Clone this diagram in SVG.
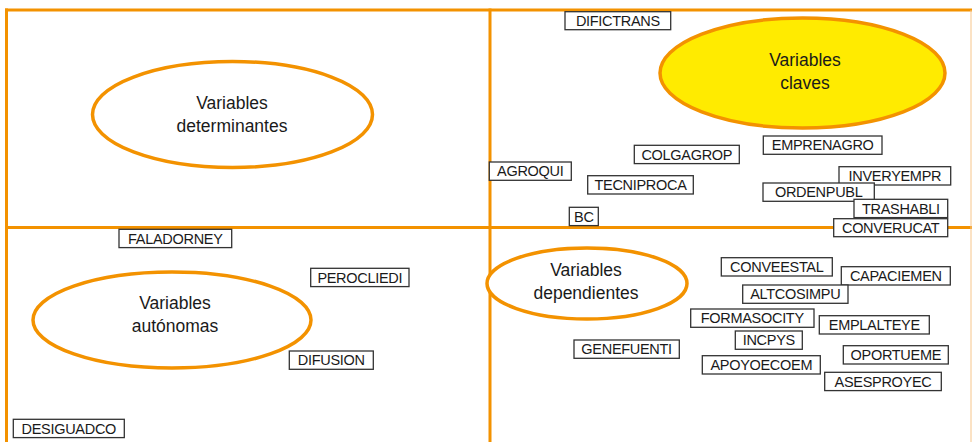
<svg xmlns="http://www.w3.org/2000/svg" width="972" height="442" viewBox="0 0 972 442">
<style>
.frame{stroke:#F39200;stroke-width:3;fill:none}
.ell{stroke:#F39200;stroke-width:3.5;fill:#fff}
.key{fill:#FFEB00}
.big{font-family:"Liberation Sans",Arial,sans-serif;font-size:17.5px;fill:#1a1a1a;text-anchor:middle}
.box rect{fill:#fff;stroke:#333;stroke-width:1.3}
.box text{font-family:"Liberation Sans",Arial,sans-serif;font-size:14.5px;letter-spacing:-0.3px;fill:#1a1a1a;text-anchor:middle}
</style>
<rect width="972" height="442" fill="#fff"/>
<g id="connectors">
<line class="frame" x1="5" y1="10" x2="972" y2="10"/>
<line class="frame" x1="6.5" y1="8.5" x2="6.5" y2="442"/>
<line class="frame" x1="490" y1="8.5" x2="490" y2="442"/>
<line class="frame" x1="5" y1="227.5" x2="972" y2="227.5"/>
<line x1="971" y1="10" x2="971" y2="442" stroke="#F7C58A" stroke-width="1"/>
</g>
<g id="determinantes"><ellipse class="ell" cx="232.5" cy="114.5" rx="140" ry="53"/><text class="big" x="232" y="109">Variables</text><text class="big" x="232" y="132">determinantes</text></g>
<g id="claves"><ellipse class="ell key" cx="802.5" cy="73" rx="142.5" ry="55"/><text class="big" x="805" y="66">Variables</text><text class="big" x="805" y="88.5">claves</text></g>
<g id="dependientes"><ellipse class="ell" cx="587" cy="283.5" rx="100" ry="35.5"/><text class="big" x="586" y="276">Variables</text><text class="big" x="586" y="298.5">dependientes</text></g>
<g id="autonomas"><ellipse class="ell" cx="172" cy="320" rx="139" ry="48"/><text class="big" x="175" y="308.5">Variables</text><text class="big" x="175" y="332">autónomas</text></g>
<g id="DIFICTRANS" class="box"><rect x="565" y="11.7" width="105.7" height="18"/><text x="617.9" y="25.8">DIFICTRANS</text></g>
<g id="COLGAGROP" class="box"><rect x="634.3" y="145.3" width="105" height="18.3"/><text x="686.8" y="159.6">COLGAGROP</text></g>
<g id="EMPRENAGRO" class="box"><rect x="763.3" y="136" width="118.7" height="18.3"/><text x="822.7" y="150.3">EMPRENAGRO</text></g>
<g id="AGROQUI" class="box"><rect x="489.3" y="162" width="82" height="18.3"/><text x="530.3" y="176.3">AGROQUI</text></g>
<g id="TECNIPROCA" class="box"><rect x="587.7" y="175.7" width="105.6" height="18.3"/><text x="640.5" y="190">TECNIPROCA</text></g>
<g id="INVERYEMPR" class="box"><rect x="839" y="166.7" width="111.7" height="18.3"/><text x="894.9" y="181">INVERYEMPR</text></g>
<g id="ORDENPUBL" class="box"><rect x="763" y="183" width="111.3" height="18.3"/><text x="818.7" y="197.3">ORDENPUBL</text></g>
<g id="TRASHABLI" class="box"><rect x="854" y="199.3" width="93.7" height="18.3"/><text x="900.9" y="213.6">TRASHABLI</text></g>
<g id="BC" class="box"><rect x="569.3" y="207.3" width="29" height="18.3"/><text x="583.8" y="221.6">BC</text></g>
<g id="CONVERUCAT" class="box"><rect x="833.7" y="218.7" width="114" height="18"/><text x="890.7" y="232.9">CONVERUCAT</text></g>
<g id="CONVEESTAL" class="box"><rect x="721.3" y="257.7" width="111" height="18.3"/><text x="776.8" y="272">CONVEESTAL</text></g>
<g id="CAPACIEMEN" class="box"><rect x="841.3" y="266.7" width="109" height="18.3"/><text x="895.8" y="281">CAPACIEMEN</text></g>
<g id="ALTCOSIMPU" class="box"><rect x="742.7" y="285" width="105.3" height="18.3"/><text x="795.3" y="299.3">ALTCOSIMPU</text></g>
<g id="FORMASOCITY" class="box"><rect x="690.7" y="309" width="123.3" height="18.3"/><text x="752.3" y="323.3">FORMASOCITY</text></g>
<g id="EMPLALTEYE" class="box"><rect x="819.3" y="315.7" width="110" height="18.3"/><text x="874.3" y="330">EMPLALTEYE</text></g>
<g id="INCPYS" class="box"><rect x="735.3" y="331" width="67" height="18.3"/><text x="768.8" y="345.3">INCPYS</text></g>
<g id="GENEFUENTI" class="box"><rect x="574" y="340" width="105.3" height="18.3"/><text x="626.6" y="354.3">GENEFUENTI</text></g>
<g id="OPORTUEME" class="box"><rect x="843.3" y="345.7" width="105" height="18.3"/><text x="895.8" y="360">OPORTUEME</text></g>
<g id="APOYOECOEM" class="box"><rect x="702.3" y="355.7" width="118" height="18.3"/><text x="761.3" y="370">APOYOECOEM</text></g>
<g id="ASESPROYEC" class="box"><rect x="824.7" y="372.3" width="116.6" height="18.3"/><text x="883" y="386.6">ASESPROYEC</text></g>
<g id="FALADORNEY" class="box"><rect x="119" y="229.3" width="112.7" height="18.3"/><text x="175.3" y="243.6">FALADORNEY</text></g>
<g id="PEROCLIEDI" class="box"><rect x="310.7" y="268.3" width="98.3" height="18.3"/><text x="359.8" y="282.6">PEROCLIEDI</text></g>
<g id="DIFUSION" class="box"><rect x="289.3" y="351" width="84" height="18.3"/><text x="331.3" y="365.3">DIFUSION</text></g>
<g id="DESIGUADCO" class="box"><rect x="13.3" y="419.3" width="111" height="18.3"/><text x="68.8" y="433.6">DESIGUADCO</text></g>
</svg>
